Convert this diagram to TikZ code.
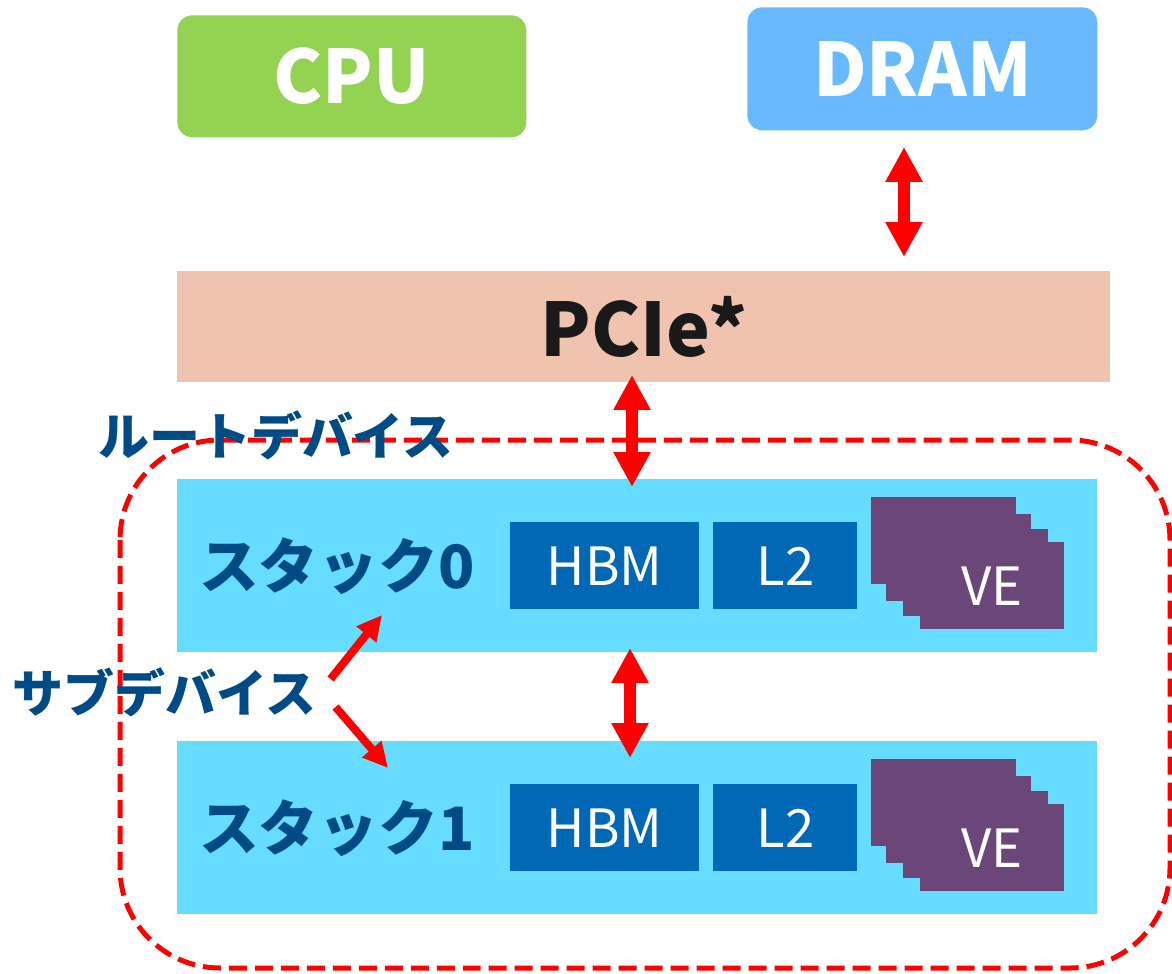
\documentclass[tikz,border=0pt]{standalone}
\usepackage{fontspec}
\setmainfont{Noto Sans CJK JP}
\usetikzlibrary{arrows.meta,positioning,calc}
\definecolor{cpugreen}{HTML}{94D352}
\definecolor{dramblue}{HTML}{69B9FF}
\definecolor{pciepeach}{HTML}{EFC3AD}
\definecolor{stackcyan}{HTML}{66DDFF}
\definecolor{hbmblue}{HTML}{0068B5}
\definecolor{vepurple}{HTML}{6B4779}
\definecolor{labelblue}{HTML}{004A86}

\begin{document}
\begin{tikzpicture}[x=0.02cm,y=-0.02cm,
    block/.style={rectangle,inner sep=0pt,anchor=north west},
    bigtext/.style={font=\fontsize{42pt}{42pt}\selectfont\bfseries},
    stacktext/.style={text=labelblue,anchor=west,font=\fontsize{34pt}{34pt}\selectfont\bfseries},
    jplabel/.style={text=labelblue,anchor=west,font=\fontsize{29pt}{29pt}\selectfont\bfseries},
    unittext/.style={text=white,font=\fontsize{30pt}{30pt}\selectfont},
    bigarrow/.style={red,line width=0.24cm,{Triangle[width=0.7cm,length=0.7cm]}-{Triangle[width=0.7cm,length=0.7cm]}},
    smallarrow/.style={red,line width=0.16cm,-{Triangle[width=0.48cm,length=0.5cm]}}]
  \useasboundingbox (0,0) rectangle (1172,973);

  % top row
  \node[block,fill=cpugreen,rounded corners=0.3cm,minimum width=6.98cm,minimum height=2.44cm,
        text=white,bigtext] (cpu) at (177,15) {CPU};
  \node[block,fill=dramblue,rounded corners=0.3cm,minimum width=7cm,minimum height=2.46cm,
        text=white,bigtext] (dram) at (747,7) {DRAM};
  \node[block,fill=pciepeach,minimum width=18.66cm,minimum height=2.22cm,text=black!90,bigtext] (pcie) at (177,271) {PCIe*};

  % root device
  \draw[red,line width=0.1cm,dash pattern=on 0.36cm off 0.16cm,rounded corners=2cm] (120,440) rectangle (1170,968);
  \node[jplabel] (root) at (92,435) {ルートデバイス};

  % stacks
  \foreach \s/\y in {0/479,1/741} {
    \node[block,fill=stackcyan,minimum width=18.4cm,minimum height=3.46cm] (stack\s) at (177,\y) {};
    \node[stacktext] (name\s) at (193,\y+87) {スタック\s};
    \node[block,fill=hbmblue,minimum width=3.78cm,minimum height=1.74cm,unittext] (hbm\s) at (510,\y+43) {HBM};
    \node[block,fill=hbmblue,minimum width=2.88cm,minimum height=1.74cm,unittext] (ltwo\s) at (713,\y+43) {L2};
    \foreach \dx/\dy [count=\i] in {0/18,15/35,32/50} {
      \fill[vepurple] (871+\dx,\y+\dy) rectangle ++(145,87);
    }
    \node[block,fill=vepurple,minimum width=2.88cm,minimum height=1.74cm,unittext] (ve\s) at (920,\y+63) {VE};
  }

  \node[jplabel] (sub) at (6,692) {サブデバイス};

  % links
  \coordinate (d1) at (904,147);
  \coordinate (d2) at (904,257);
  \draw[bigarrow] (d1) -- (d2);
  \coordinate (p1) at (632,375);
  \coordinate (p2) at (632,487);
  \draw[bigarrow] (p1) -- (p2);
  \coordinate (s1) at (630,648);
  \coordinate (s2) at (630,758);
  \draw[bigarrow] (s1) -- (s2);
  \coordinate (a0) at (382,615);
  \coordinate (a1) at (388,768);
  \draw[smallarrow] ($(sub.east)+(8,-13)$) -- (a0);
  \draw[smallarrow] ($(sub.east)+(13,15)$) -- (a1);
\end{tikzpicture}
\end{document}
